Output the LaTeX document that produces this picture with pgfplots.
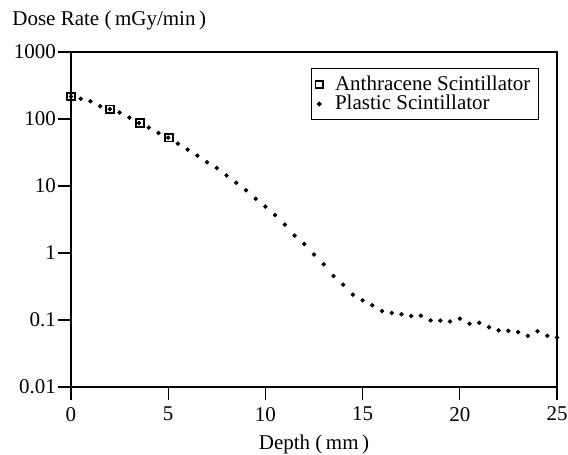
\documentclass[border=0pt]{standalone}
\usepackage{fontspec}
\setmainfont{Liberation Serif}
\usepackage{pgfplots}
\pgfplotsset{compat=1.18}
\usepackage{pgfplotstable}

% anthracene scintillator (squares)
\pgfplotstableread{
x y
0.0 216
2.0 140
3.55 87
5.05 52.7
}\anthracene

% plastic scintillator (dots)
\pgfplotstableread{
x y
0.0 216
0.5 201
1.0 184
1.5 155
2.0 140
2.5 125
3.0 105
3.5 87
4.0 74.4
4.5 61.8
5.0 52.7
5.5 42.9
6.0 34.9
6.5 28.4
7.0 22.6
7.5 18.6
8.0 14.4
8.5 11.2
9.0 8.63
9.5 6.46
10.0 4.93
10.5 3.69
11.0 2.65
11.5 1.82
12.0 1.36
12.5 0.95
13.0 0.678
13.5 0.454
14.0 0.337
14.5 0.239
15.0 0.197
15.5 0.166
16.0 0.136
16.5 0.127
17.0 0.122
17.5 0.115
18.0 0.116
18.5 0.099
19.0 0.098
19.5 0.095
20.0 0.105
20.5 0.088
21.0 0.091
21.5 0.078
22.0 0.070
22.5 0.069
23.0 0.066
23.5 0.058
24.0 0.068
24.5 0.058
25.0 0.055
}\plastic

\begin{document}
\begin{tikzpicture}
\begin{axis}[
    name=ax,
    ymode=log,
    scale only axis,
    width=243pt, height=167.5pt,
    xmin=0, xmax=25, ymin=0.01, ymax=1000,
    xtick={0,5,10,15,20,25},
    ytick={0.01,0.1,1,10,100,1000},
    yticklabels={0.01,0.1,1,10,100,1000},
    minor tick num=0,
    yminorticks=false,
    tick align=outside,
    tick pos=left,
    major tick length=6.5pt,
    axis line style={line width=1pt},
    every tick/.style={black, line width=0.6pt},
    font=\fontsize{10.5pt}{12pt}\selectfont,
    /pgf/number format/assume math mode=true,
    yticklabel style={xshift=2.5pt},
    xlabel={Depth (\,mm\,)},
    title={Dose Rate (\,mGy/min\,)},
    title style={at={(rel axis cs:0,1)}, anchor=west, xshift=-29.5pt, yshift=10pt, inner sep=0pt},
    legend style={at={(0.963,0.952)}, anchor=north east, draw=black, line width=0.6pt,
                  font=\fontsize{10.5pt}{12pt}\selectfont, row sep=-3pt,
                  inner xsep=2pt, inner ysep=1.5pt},
    legend image post style={xshift=2pt},
    legend cell align=left,
]
\addplot[only marks, mark=square, mark size=1.9pt, mark options={line width=0.9pt, black}]
    table[x=x, y=y] {\anthracene};
\addlegendentry{\hspace{4pt}Anthracene Scintillator}
\addplot[only marks, mark=*, mark size=0.9pt, black]
    table[x=x, y=y] {\plastic};
\addlegendentry{\hspace{4pt}Plastic Scintillator}
\end{axis}
\pgfresetboundingbox
\path ([xshift=-35.5pt, yshift=-34pt]ax.south west) rectangle ([xshift=5.5pt, yshift=26pt]ax.north east);
\end{tikzpicture}
\end{document}
